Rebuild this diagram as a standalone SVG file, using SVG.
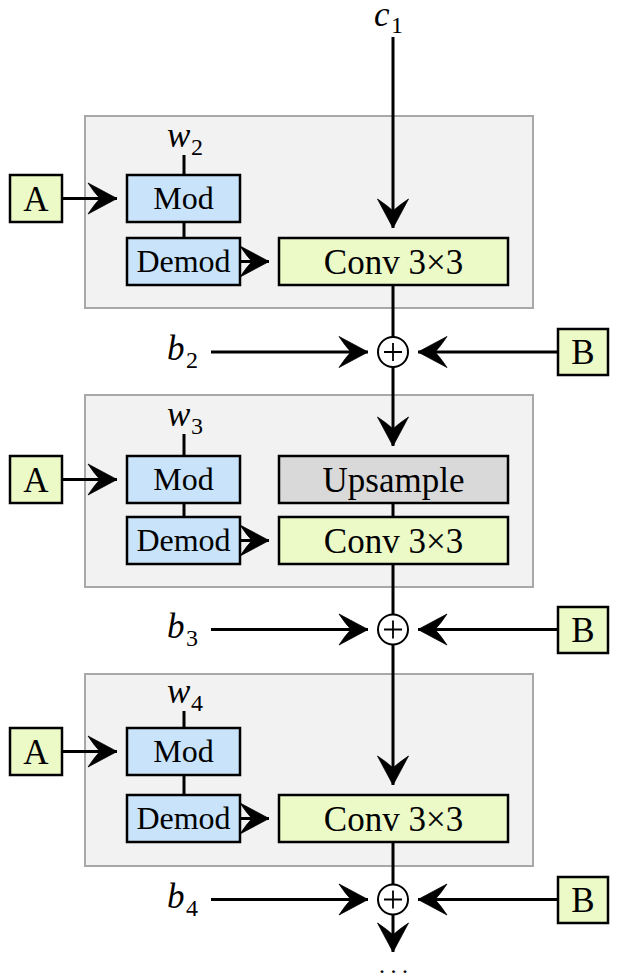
<svg xmlns="http://www.w3.org/2000/svg" width="618" height="978" viewBox="0 0 618 978">
<style>
.grp{fill:#f2f2f2;stroke:#a8a8a8;stroke-width:2}
.blue{fill:#c8e3fa;stroke:#000;stroke-width:2.5}
.green{fill:#ebfac6;stroke:#000;stroke-width:2.5}
.gray{fill:#d9d9d9;stroke:#000;stroke-width:2.5}
.circ{fill:#fff;stroke:#000;stroke-width:2}
.ln{stroke:#000;stroke-width:3;fill:none}
.arr{stroke:#000;stroke-width:3;fill:none;marker-end:url(#ah)}
.t{font-family:"Liberation Serif","Times New Roman",serif;fill:#000;text-anchor:middle}
.m{font-size:32px}
.c{font-size:35px}
.it{font-family:"Liberation Serif","Times New Roman",serif;font-style:italic;font-size:35px;fill:#000}
.sub{font-family:"Liberation Serif","Times New Roman",serif;font-size:24px;fill:#000}
</style>
<defs>
<marker id="ah" markerUnits="userSpaceOnUse" markerWidth="40" markerHeight="40" refX="10" refY="0" orient="auto" overflow="visible" viewBox="-30 -20 40 40">
<path d="M10,0 L-19,-15.5 Q-12,-5 -7,0 Q-12,5 -19,15.5 Z" fill="#000" stroke="#000" stroke-width="0.8" stroke-linejoin="miter"/>
</marker>
</defs>

<g id="block1">
<rect class="grp" x="85" y="116" width="448" height="192"/>
</g>
<g id="block2">
<rect class="grp" x="85" y="395" width="448" height="192"/>
</g>
<g id="block3">
<rect class="grp" x="85" y="674" width="448" height="192"/>
</g>

<g id="connectors">
<line class="arr" x1="393" y1="37" x2="393" y2="228"/>
<line class="arr" x1="62" y1="198.5" x2="117" y2="198.5"/>
<line class="arr" x1="240" y1="261.5" x2="269" y2="261.5"/>
<line class="ln" x1="184" y1="155" x2="184" y2="175"/>
<line class="ln" x1="184" y1="222" x2="184" y2="238"/>
<line class="ln" x1="393" y1="285" x2="393" y2="337"/>
<line class="arr" x1="211" y1="352" x2="368" y2="352"/>
<line class="arr" x1="558" y1="352" x2="418" y2="352"/>
<line class="arr" x1="393" y1="367" x2="393" y2="446"/>
<line class="ln" x1="393" y1="503" x2="393" y2="517"/>
<line class="ln" x1="184" y1="434" x2="184" y2="456"/>
<line class="ln" x1="184" y1="503" x2="184" y2="517"/>
<line class="arr" x1="62" y1="479.5" x2="117" y2="479.5"/>
<line class="arr" x1="240" y1="540.5" x2="269" y2="540.5"/>
<line class="ln" x1="393" y1="564" x2="393" y2="614"/>
<line class="arr" x1="211" y1="629.5" x2="368" y2="629.5"/>
<line class="arr" x1="558" y1="629.5" x2="418" y2="629.5"/>
<line class="arr" x1="393" y1="644.5" x2="393" y2="785"/>
<line class="ln" x1="184" y1="711" x2="184" y2="728"/>
<line class="ln" x1="184" y1="775" x2="184" y2="795"/>
<line class="arr" x1="62" y1="751.5" x2="117" y2="751.5"/>
<line class="arr" x1="240" y1="818.5" x2="269" y2="818.5"/>
<line class="ln" x1="393" y1="842" x2="393" y2="884"/>
<line class="arr" x1="211" y1="899.5" x2="368" y2="899.5"/>
<line class="arr" x1="558" y1="899.5" x2="418" y2="899.5"/>
<line class="arr" x1="393" y1="914.5" x2="393" y2="952"/>
</g>

<g id="c1"><text class="it" x="374" y="26">c</text><text class="sub" x="391" y="33">1</text></g>

<g id="w2"><text class="it" x="167" y="147">w</text><text class="sub" x="191" y="155">2</text></g>
<g id="A1"><rect class="green" x="10" y="175" width="52" height="47"/><text class="t c" x="36" y="210.5">A</text></g>
<g id="Mod1"><rect class="blue" x="127" y="175" width="113" height="47"/><text class="t m" x="183.5" y="209">Mod</text></g>
<g id="Demod1"><rect class="blue" x="127" y="238" width="113" height="47"/><text class="t m" x="183.5" y="272">Demod</text></g>
<g id="Conv1"><rect class="green" x="279" y="238" width="229" height="47"/><text class="t c" x="393.5" y="273.5">Conv 3×3</text></g>
<g id="sum1"><circle class="circ" cx="393" cy="352" r="15"/><path class="ln" style="stroke-width:1.8" d="M384,352H402M393,343V361"/></g>
<g id="b2"><text class="it" x="167" y="360">b</text><text class="sub" x="186" y="368">2</text></g>
<g id="B1"><rect class="green" x="558" y="329" width="50" height="46"/><text class="t c" x="583" y="364">B</text></g>

<g id="w3"><text class="it" x="167" y="426">w</text><text class="sub" x="191" y="434">3</text></g>
<g id="A2"><rect class="green" x="10" y="456" width="52" height="47"/><text class="t c" x="36" y="491.5">A</text></g>
<g id="Mod2"><rect class="blue" x="127" y="456" width="113" height="47"/><text class="t m" x="183.5" y="490">Mod</text></g>
<g id="Upsample"><rect class="gray" x="279" y="456" width="229" height="47"/><text class="t c" x="393.5" y="491.5">Upsample</text></g>
<g id="Demod2"><rect class="blue" x="127" y="517" width="113" height="47"/><text class="t m" x="183.5" y="551">Demod</text></g>
<g id="Conv2"><rect class="green" x="279" y="517" width="229" height="47"/><text class="t c" x="393.5" y="552.5">Conv 3×3</text></g>
<g id="sum2"><circle class="circ" cx="393" cy="629.5" r="15"/><path class="ln" style="stroke-width:1.8" d="M384,629.5H402M393,620.5V638.5"/></g>
<g id="b3"><text class="it" x="167" y="637.5">b</text><text class="sub" x="186" y="645.5">3</text></g>
<g id="B2"><rect class="green" x="558" y="607" width="50" height="46"/><text class="t c" x="583" y="642">B</text></g>

<g id="w4"><text class="it" x="167" y="703">w</text><text class="sub" x="191" y="711">4</text></g>
<g id="A3"><rect class="green" x="10" y="728" width="52" height="47"/><text class="t c" x="36" y="763.5">A</text></g>
<g id="Mod3"><rect class="blue" x="127" y="728" width="113" height="47"/><text class="t m" x="183.5" y="762">Mod</text></g>
<g id="Demod3"><rect class="blue" x="127" y="795" width="113" height="47"/><text class="t m" x="183.5" y="829">Demod</text></g>
<g id="Conv3"><rect class="green" x="279" y="795" width="229" height="47"/><text class="t c" x="393.5" y="830.5">Conv 3×3</text></g>
<g id="sum3"><circle class="circ" cx="393" cy="899.5" r="15"/><path class="ln" style="stroke-width:1.8" d="M384,899.5H402M393,890.5V908.5"/></g>
<g id="b4"><text class="it" x="167" y="907.5">b</text><text class="sub" x="186" y="915.5">4</text></g>
<g id="B3"><rect class="green" x="558" y="877" width="50" height="46"/><text class="t c" x="583" y="912">B</text></g>

<g id="dots"><text style="font-family:'Liberation Serif','Times New Roman',serif;font-size:24px;letter-spacing:5.5px" x="379" y="972.5">...</text></g>
</svg>
